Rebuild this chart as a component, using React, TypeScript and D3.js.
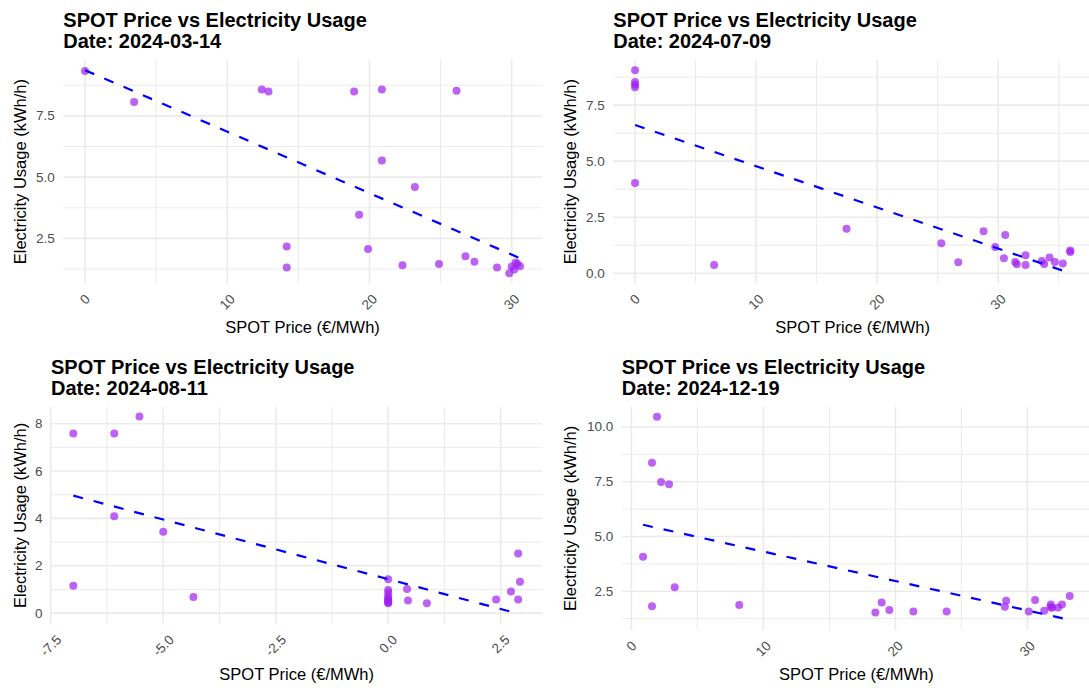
import React from "react";
import * as d3 from "d3";

// ---------- DATA ----------
const TITLE = "SPOT Price vs Electricity Usage";
const DATES = ["2024-03-14", "2024-07-09", "2024-08-11", "2024-12-19"];
const X_LABEL = "SPOT Price (€/MWh)";
const Y_LABEL = "Electricity Usage (kWh/h)";

const spotMar = [0, 3.45, 12.43, 12.9, 14.18, 14.18, 18.92, 19.27, 19.9, 20.87, 20.87, 22.32, 23.19, 24.89, 26.12, 26.75, 27.38, 28.97, 29.83, 30.0, 30.18, 30.28, 30.4, 30.58];
const usageMar = [9.33, 8.07, 8.58, 8.49, 2.17, 1.31, 8.49, 3.46, 2.07, 8.58, 5.68, 1.4, 4.6, 1.45, 8.53, 1.77, 1.55, 1.31, 1.08, 1.35, 1.23, 1.51, 1.45, 1.36];

const spotJul = [0, 0, 0, 0, 0, 6.53, 17.47, 25.3, 26.7, 28.79, 29.75, 30.58, 30.47, 31.4, 31.54, 32.26, 32.26, 33.6, 33.8, 34.24, 34.68, 35.34, 35.95, 35.95];
const usageJul = [9.06, 8.53, 8.41, 8.3, 4.02, 0.37, 1.98, 1.34, 0.49, 1.875, 1.17, 1.7, 0.67, 0.5, 0.4, 0.8, 0.37, 0.55, 0.41, 0.7, 0.5, 0.43, 1.01, 0.95];

const spotAug = [-7.0, -6.09, -5.53, -6.09, -5.0, -7.0, -4.33, 0, 0, 0, 0, 0, 0, 0, 0, 0, 0.42, 0.44, 0.86, 2.4, 2.73, 2.89, 2.89, 2.93];
const usageAug = [7.59, 7.59, 8.3, 4.09, 3.44, 1.16, 0.68, 1.43, 0.98, 0.86, 0.7, 0.62, 0.55, 0.5, 0.45, 0.42, 1.02, 0.53, 0.42, 0.58, 0.91, 2.52, 0.58, 1.33];

const spotDec = [1.94, 1.56, 2.25, 2.85, 0.88, 3.28, 1.56, 8.17, 18.48, 18.96, 19.54, 21.36, 23.88, 28.29, 28.39, 30.1, 30.58, 31.27, 31.77, 31.87, 32.32, 32.62, 33.2, 31.75];
const usageDec = [10.46, 8.36, 7.49, 7.38, 4.08, 2.68, 1.81, 1.87, 1.53, 1.99, 1.64, 1.58, 1.58, 1.79, 2.07, 1.58, 2.1, 1.61, 1.89, 1.75, 1.76, 1.9, 2.28, 1.78];

const xTicksMar = [0, 10, 20, 30];
const xTickLabelsMar = ["0", "10", "20", "30"];
const yTicksMar = [2.5, 5, 7.5];
const yTickLabelsMar = ["2.5", "5.0", "7.5"];

const xTicksJul = [0, 10, 20, 30];
const xTickLabelsJul = ["0", "10", "20", "30"];
const yTicksJul = [0, 2.5, 5, 7.5];
const yTickLabelsJul = ["0.0", "2.5", "5.0", "7.5"];

const xTicksAug = [-7.5, -5, -2.5, 0, 2.5];
const xTickLabelsAug = ["-7.5", "-5.0", "-2.5", "0.0", "2.5"];
const yTicksAug = [0, 2, 4, 6, 8];
const yTickLabelsAug = ["0", "2", "4", "6", "8"];

const xTicksDec = [0, 10, 20, 30];
const xTickLabelsDec = ["0", "10", "20", "30"];
const yTicksDec = [2.5, 5, 7.5, 10];
const yTickLabelsDec = ["2.5", "5.0", "7.5", "10.0"];

// ---------- LAYOUT ----------
const W = 1089;
const H = 688;
const FONT = "'Liberation Sans', Arial, Helvetica, sans-serif";

const PANELS = [
  { date: DATES[0], xs: spotMar, ys: usageMar, xt: xTicksMar, xtl: xTickLabelsMar, yt: yTicksMar, ytl: yTickLabelsMar,
    box: { left: 63.3, right: 541.7, top: 60, bottom: 283.3 }, row: 0, yTitleX: 26 },
  { date: DATES[1], xs: spotJul, ys: usageJul, xt: xTicksJul, xtl: xTickLabelsJul, yt: yTicksJul, ytl: yTickLabelsJul,
    box: { left: 613.3, right: 1092, top: 60, bottom: 283.3 }, row: 0, yTitleX: 575.5 },
  { date: DATES[2], xs: spotAug, ys: usageAug, xt: xTicksAug, xtl: xTickLabelsAug, yt: yTicksAug, ytl: yTickLabelsAug,
    box: { left: 51, right: 542.3, top: 406.7, bottom: 624 }, row: 1, yTitleX: 26 },
  { date: DATES[3], xs: spotDec, ys: usageDec, xt: xTicksDec, xtl: xTickLabelsDec, yt: yTicksDec, ytl: yTickLabelsDec,
    box: { left: 621.7, right: 1091, top: 406.7, bottom: 630 }, row: 1, yTitleX: 575.5 },
];
const TITLE_BASE = [[26.5, 48], [373.5, 395]];
const XLABEL_BASE = [333, 680];

const TICK_FONT = 13.5;
const AXIS_FONT = 16.5;
const TITLE_FONT = 20;

let _ctx: CanvasRenderingContext2D | null = null;
function textWidth(s: string, size: number) {
  if (!_ctx) _ctx = document.createElement("canvas").getContext("2d");
  if (!_ctx) return s.length * size * 0.55;
  _ctx.font = `${size}px ${FONT}`;
  return _ctx.measureText(s).width;
}

function linearFit(xs: number[], ys: number[]) {
  const mx = d3.mean(xs) as number;
  const my = d3.mean(ys) as number;
  let sxy = 0, sxx = 0;
  xs.forEach((x, i) => { sxy += (x - mx) * (ys[i] - my); sxx += (x - mx) * (x - mx); });
  const b = sxy / sxx;
  return { a: my - b * mx, b };
}

function expand(ext: [number, number]): [number, number] {
  const w = ext[1] - ext[0];
  return [ext[0] - 0.05 * w, ext[1] + 0.05 * w];
}

function minorTicks(major: number[], domain: [number, number]) {
  const step = major[1] - major[0];
  const out: number[] = [];
  const all = [major[0] - step, ...major, major[major.length - 1] + step];
  for (let i = 0; i < all.length - 1; i++) {
    const m = (all[i] + all[i + 1]) / 2;
    if (m >= domain[0] && m <= domain[1]) out.push(m);
  }
  return out;
}

function Panel({ p }: { p: typeof PANELS[number] }) {
  const { box } = p;
  const fit = linearFit(p.xs, p.ys);
  const xExt = d3.extent(p.xs) as [number, number];
  const lineYs = [fit.a + fit.b * xExt[0], fit.a + fit.b * xExt[1]];
  const yExt = d3.extent([...p.ys, ...lineYs]) as [number, number];
  const xDom = expand(xExt);
  const yDom = expand(yExt);
  const x = d3.scaleLinear().domain(xDom).range([box.left, box.right]);
  const y = d3.scaleLinear().domain(yDom).range([box.bottom, box.top]);
  const xMinor = minorTicks(p.xt, xDom);
  const yMinor = minorTicks(p.yt, yDom);
  const line = d3.line<number>().x((d) => x(d)).y((d) => y(fit.a + fit.b * d));
  const grid = "#EBEBEB";
  const [t1, t2] = TITLE_BASE[p.row];
  return (
    <g>
      {yMinor.map((v) => (
        <line key={"ym" + v} x1={box.left} x2={box.right} y1={y(v)} y2={y(v)} stroke={grid} strokeWidth={1} />
      ))}
      {xMinor.map((v) => (
        <line key={"xm" + v} y1={box.top} y2={box.bottom} x1={x(v)} x2={x(v)} stroke={grid} strokeWidth={1} />
      ))}
      {p.yt.map((v) => (
        <line key={"yM" + v} x1={box.left} x2={box.right} y1={y(v)} y2={y(v)} stroke={grid} strokeWidth={1.6} />
      ))}
      {p.xt.map((v) => (
        <line key={"xM" + v} y1={box.top} y2={box.bottom} x1={x(v)} x2={x(v)} stroke={grid} strokeWidth={1.6} />
      ))}
      {p.xs.map((v, i) => (
        <circle key={"pt" + i} cx={x(v)} cy={y(p.ys[i])} r={4} fill="#A020F0" fillOpacity={0.7} />
      ))}
      <path d={line(xExt) || ""} fill="none" stroke="#0000FF" strokeWidth={2.2} strokeDasharray="10 11" />
      {p.yt.map((v, i) => (
        <text key={"yl" + v} x={box.left - 8.4} y={y(v)} textAnchor="end" dominantBaseline="central"
          fontSize={TICK_FONT} fill="#4D4D4D" fontFamily={FONT}>{p.ytl[i]}</text>
      ))}
      {p.xt.map((v, i) => {
        const w = textWidth(p.xtl[i], TICK_FONT);
        const cy = box.bottom + 10 + (w + 9.7) * 0.3536;
        return (
          <text key={"xl" + v} transform={`translate(${x(v)},${cy}) rotate(-45)`} textAnchor="middle"
            dominantBaseline="central" fontSize={TICK_FONT} fill="#4D4D4D" fontFamily={FONT}>{p.xtl[i]}</text>
        );
      })}
      <text x={(box.left + box.right) / 2} y={XLABEL_BASE[p.row]} textAnchor="middle" fontSize={AXIS_FONT}
        fill="#000" fontFamily={FONT}>{X_LABEL}</text>
      <text transform={`translate(${p.yTitleX},${(box.top + box.bottom) / 2}) rotate(-90)`} textAnchor="middle"
        fontSize={AXIS_FONT} fill="#000" fontFamily={FONT}>{Y_LABEL}</text>
      <text x={box.left} y={t1} fontSize={TITLE_FONT} fontWeight="bold" fill="#000" fontFamily={FONT}>{TITLE}</text>
      <text x={box.left} y={t2} fontSize={TITLE_FONT} fontWeight="bold" fill="#000" fontFamily={FONT}>{"Date: " + p.date}</text>
    </g>
  );
}

export default function App() {
  return (
    <div style={{ position: "fixed", left: 0, top: 0, width: W, height: H, background: "#fff" }}>
      <svg width={W} height={H} viewBox={`0 0 ${W} ${H}`} style={{ display: "block" }}>
        <rect x={0} y={0} width={W} height={H} fill="#fff" />
        {PANELS.map((p) => <Panel key={p.date} p={p} />)}
      </svg>
    </div>
  );
}
